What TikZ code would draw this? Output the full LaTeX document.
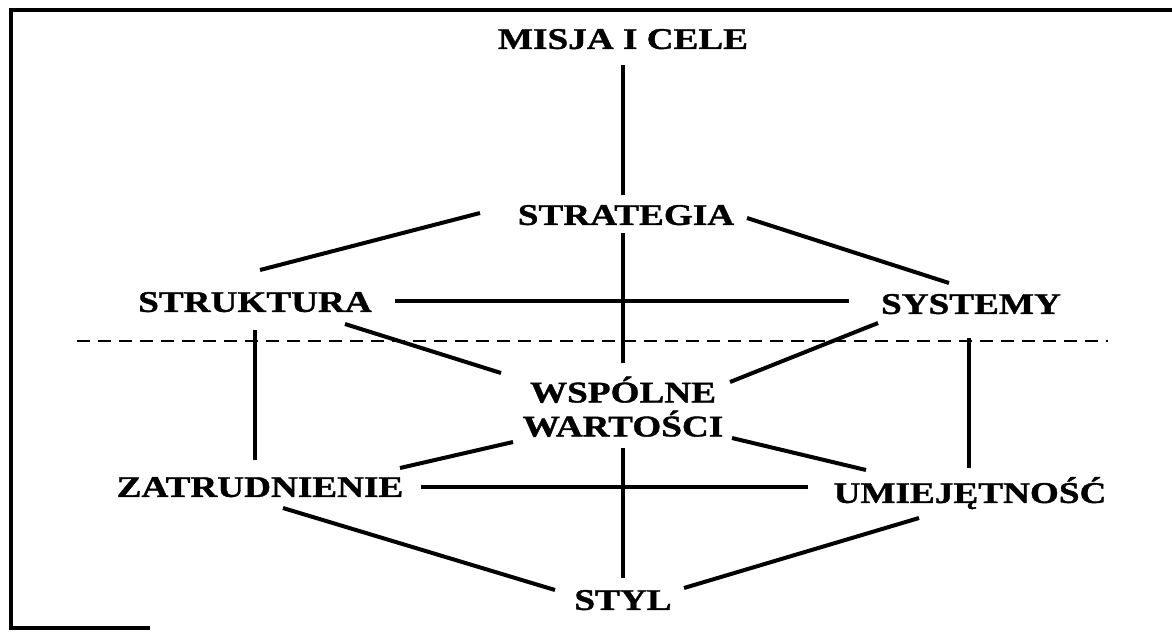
\documentclass[tikz,border=0pt]{standalone}
\usepackage{fontspec}
\setmainfont{Liberation Serif}[FakeStretch=1.24, BoldFeatures={FakeBold=1.2}]
\usepackage{tikz}

\begin{document}
\begin{tikzpicture}[x=0.5pt, y=-0.5pt,
    every node/.style={font=\bfseries\fontsize{15}{17}\selectfont, inner sep=0pt, text height=9.9pt, text depth=0pt},
    link/.style={line width=2pt},
    spine/.style={line width=1.6pt},
    divider/.style={line width=0.9pt, dash pattern=on 6.5pt off 4pt},
    frame/.style={line width=1.6pt}]
                \useasboundingbox (0,0) rectangle (1172,633);
                \draw[frame] (1172,10) -- (11,10) -- (11,628) -- (150,628);

                % Top nodes
                \node (misja) at (623,39) {MISJA I CELE};
                \node (strategia) at (626,215) {STRATEGIA};
                \node (struktura) at (255,302) {STRUKTURA};
                \node (systemy) at (971,304) {SYSTEMY};

                % Bottom nodes
                \node[align=center, text height=26.9pt] (wartosci) at (623,409.5) {WSPÓLNE\\WARTOŚCI};
                \node (zatrudnienie) at (260,487) {ZATRUDNIENIE};
                \node (umiejetnosc) at (970,493) {UMIEJĘTNOŚĆ};
                \node (styl) at (623,600) {STYL};

                % Dashed divider
                \draw[divider] (77,341) -- (1108,341);

                % Central spine
                \draw[spine, shorten <=8pt, shorten >=5pt] (misja.south) -- (misja.south |- strategia.north);
                \draw[spine, shorten <=4pt, shorten >=9.5pt] (misja.south |- strategia.south) -- (wartosci.north);
                \draw[spine, shorten <=5.5pt, shorten >=6pt] (wartosci.south) -- (styl.north);

                % Upper links
                \draw[link] ([shift={(-146,-2)}]strategia.center) -- ([shift={(5,-32)}]struktura.center);
                \draw[link] ([shift={(121,3)}]strategia.center) -- ([shift={(-22,-21)}]systemy.center);
                \draw[spine] ([shift={(140,-1)}]struktura.center) -- ([shift={(-122,-3)}]systemy.center);
                \draw[link] ([shift={(90,22)}]struktura.center) -- ([shift={(-122,-36.5)}]wartosci.center);
                \draw[link] ([shift={(-93,19)}]systemy.center) -- ([shift={(107,-27.5)}]wartosci.center);

                % Side verticals
                \draw[spine] ([shift={(0,28)}]struktura.center) -- ([shift={(-5,-27)}]zatrudnienie.center);
                \draw[spine] ([shift={(-2,34)}]systemy.center) -- ([shift={(-1,-25)}]umiejetnosc.center);

                % Lower links
                \draw[link] ([shift={(-110,32.5)}]wartosci.center) -- ([shift={(140,-19)}]zatrudnienie.center);
                \draw[link] ([shift={(109,28.5)}]wartosci.center) -- ([shift={(-104,-23)}]umiejetnosc.center);
                \draw[spine] ([shift={(161,0)}]zatrudnienie.center) -- ([shift={(-162,-6)}]umiejetnosc.center);
                \draw[link] ([shift={(23,21)}]zatrudnienie.center) -- ([shift={(-68,-10)}]styl.center);
                \draw[link] ([shift={(-51,25)}]umiejetnosc.center) -- ([shift={(61,-12)}]styl.center);
            \end{tikzpicture}
\end{document}
